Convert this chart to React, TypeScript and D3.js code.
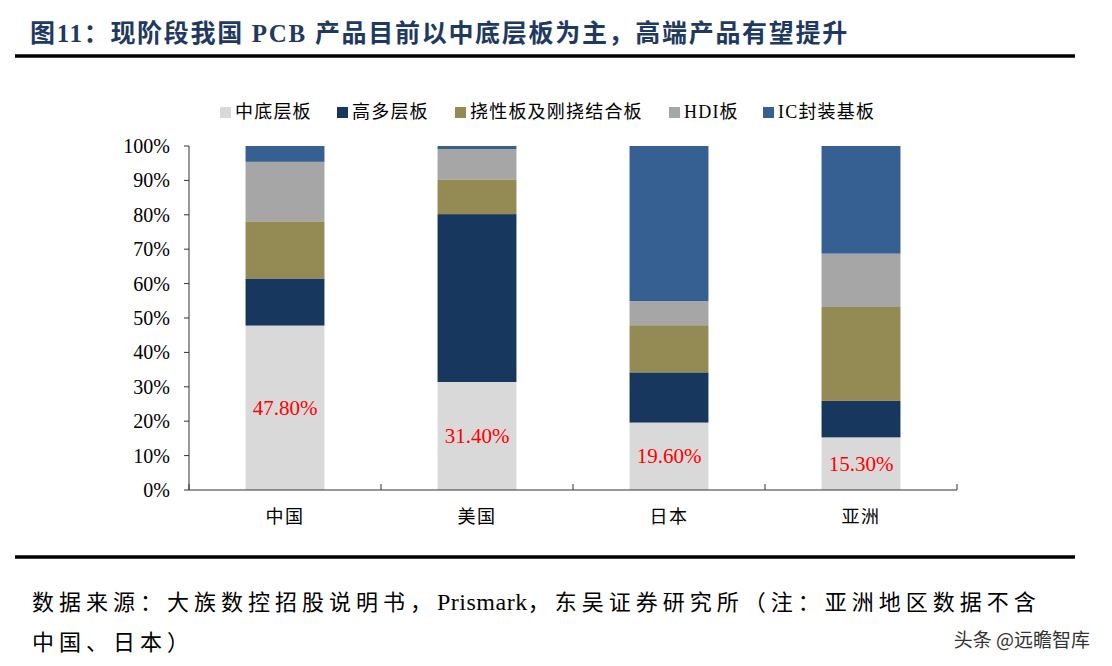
import React from "react";
import * as d3 from "d3";

const categories = ["中国", "美国", "日本", "亚洲"];
const seriesNames = ["中底层板", "高多层板", "挠性板及刚挠结合板", "HDI板", "IC封装基板"];
const lowMid = [47.8, 31.4, 19.6, 15.3];
const highMulti = [13.7, 48.8, 14.6, 10.6];
const flexRigid = [16.6, 10.1, 13.7, 27.3];
const hdi = [17.3, 8.8, 7.0, 15.5];
const icSubstrate = [4.6, 0.9, 45.1, 31.3];
const yTicks = [0, 10, 20, 30, 40, 50, 60, 70, 80, 90, 100];
const labelValues = ["47.80%", "31.40%", "19.60%", "15.30%"];

const colors = ["#D9D9D9", "#17375E", "#948A54", "#A6A6A6", "#376092"];
const seriesData = [lowMid, highMulti, flexRigid, hdi, icSubstrate];

const SERIF = "'Liberation Serif', 'Times New Roman', 'Noto Sans CJK SC', serif";
const CJK = "'Liberation Serif', 'Noto Sans CJK SC', serif";

export default function App() {
  const W = 1112, H = 666;
  const x0 = 189, x1 = 957, y0 = 490, y1 = 146;
  const x = d3.scaleBand<string>().domain(categories).range([x0, x1]).paddingInner(0.589).paddingOuter(0.2945);
  const y = d3.scaleLinear().domain([0, 100]).range([y0, y1]);

  const rows = categories.map((c, i) => {
    const r: any = { cat: c };
    seriesNames.forEach((s, j) => (r[s] = seriesData[j][i]));
    return r;
  });
  const stacked = d3.stack<any>().keys(seriesNames)(rows);

  const legendX = [220, 337, 455, 669, 763];
  const band = (x1 - x0) / categories.length;

  return (
    <svg width={W} height={H} style={{ position: "absolute", left: 0, top: 0, background: "#fff" }}>
      <rect x={0} y={0} width={W} height={H} fill="#fff" />
      <text x={30} y={42} fontFamily={CJK} fontWeight="bold" fontSize={25} letterSpacing={1.7} fill="#1F3A60">
        图11：现阶段我国 PCB 产品目前以中底层板为主，高端产品有望提升
      </text>
      <line x1={15} x2={1075} y1={56} y2={56} stroke="#000" strokeWidth={3.5} />

      {seriesNames.map((s, i) => (
        <g key={s}>
          <rect x={legendX[i]} y={107} width={11} height={11} fill={colors[i]} />
          <text x={legendX[i] + 15} y={118} fontFamily={CJK} fontSize={18} letterSpacing={1.2} fill="#000">{s}</text>
        </g>
      ))}

      {stacked.map((layer, li) => (
        <g key={layer.key}>
          {layer.map((d, ci) => (
            <rect key={ci} x={x(categories[ci])} width={x.bandwidth()} y={y(d[1])} height={y(d[0]) - y(d[1])} fill={colors[li]} />
          ))}
        </g>
      ))}

      {/* axes */}
      <line x1={x0} x2={x0} y1={y1} y2={y0} stroke="#333" strokeWidth={1} />
      <line x1={x0} x2={x1} y1={y0} y2={y0} stroke="#333" strokeWidth={1} />
      {yTicks.map((t) => (
        <g key={t}>
          <line x1={x0 - 5} x2={x0} y1={y(t)} y2={y(t)} stroke="#333" />
          <text x={170} y={y(t) + 7} textAnchor="end" fontFamily={SERIF} fontSize={20} fill="#000">{t}%</text>
        </g>
      ))}
      {d3.range(categories.length + 1).map((i) => (
        <line key={i} x1={x0 + band * i} x2={x0 + band * i} y1={y0} y2={y0 - 6} stroke="#333" />
      ))}
      {categories.map((c) => (
        <text key={c} x={(x(c) as number) + x.bandwidth() / 2} y={523} textAnchor="middle" fontFamily={CJK} fontSize={18} letterSpacing={1.5} fill="#000">{c}</text>
      ))}
      {categories.map((c, i) => (
        <text key={c} x={(x(c) as number) + x.bandwidth() / 2} y={y(lowMid[i] / 2) + 7} textAnchor="middle" fontFamily={SERIF} fontSize={21} fill="#FF0000">{labelValues[i]}</text>
      ))}

      <line x1={15} x2={1075} y1={557} y2={557} stroke="#000" strokeWidth={3.5} />
      <text x={32} y={610} fontFamily={CJK} fontSize={22} letterSpacing={5} fill="#000">数据来源：大族数控招股说明书，<tspan letterSpacing={0.5} fontSize={24}>Prismark</tspan>，东吴证券研究所（注：亚洲地区数据不含</text>
      <text x={32} y={650} fontFamily={CJK} fontSize={22} letterSpacing={5} fill="#000">中国、日本）</text>
      <text x={1090} y={647} textAnchor="end" fontFamily="'Noto Sans CJK SC', sans-serif" fontSize={19} fill="#333">头条 @远瞻智库</text>
    </svg>
  );
}
